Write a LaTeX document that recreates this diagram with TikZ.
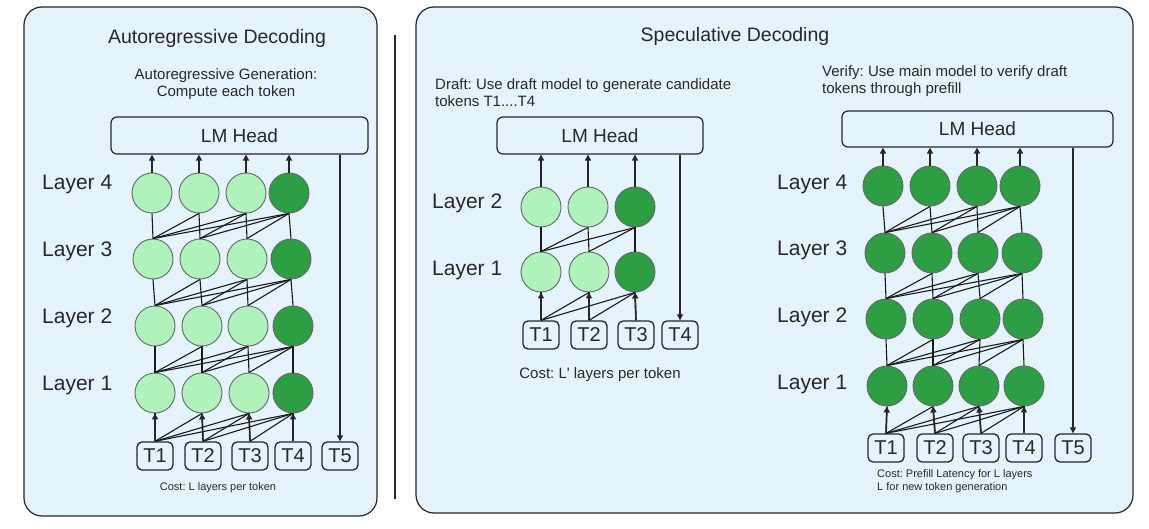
\documentclass[tikz,border=0pt]{standalone}
\usepackage{fontspec}
\setmainfont{Liberation Sans}
\usetikzlibrary{arrows.meta}
\definecolor{panelblue}{RGB}{229,243,253}
\definecolor{lightg}{RGB}{176,242,188}
\definecolor{darkg}{RGB}{46,158,68}
\definecolor{txt}{RGB}{40,40,40}
\frenchspacing
\begin{document}
\begin{tikzpicture}[x=1pt,y=-1pt,
  panel/.style={draw=black!85, line width=1.2pt, fill=panelblue, rounded corners=18pt},
  head/.style={draw=black!85, line width=1.2pt, rounded corners=6pt, inner sep=0pt, font=\fontsize{19}{22}\selectfont, text=txt},
  lnode/.style={circle, minimum size=40pt, inner sep=0pt, draw=black!60, line width=0.9pt, fill=lightg},
  dnode/.style={lnode, fill=darkg},
  tok/.style={draw=black!85, line width=1.3pt, rounded corners=5pt, minimum width=36pt, minimum height=28pt, inner sep=0pt, font=\fontsize{20}{22}\selectfont, text=txt},
  lbl/.style={anchor=west, font=\fontsize{21}{24}\selectfont, text=txt, inner sep=0pt},
  title/.style={font=\fontsize{19.5}{23}\selectfont, text=txt, inner sep=0pt},
  note/.style={font=\fontsize{15}{17.5}\selectfont, text=txt, inner sep=0pt},
  small/.style={font=\fontsize{11}{13}\selectfont, text=txt, inner sep=0pt},
  conn/.style={line width=1.1pt, draw=black!90},
  arr/.style={line width=1.7pt, draw=black!85, -{Triangle[length=6pt,width=6pt]}},
  darr/.style={line width=1.1pt, draw=black!85, -{Triangle[length=6pt,width=6pt]}}]
\useasboundingbox (0,0) rectangle (1149,529);

% panels
\draw[panel] (24,7) rectangle (377,516);
\draw[panel] (416,7) rectangle (1133,513);
\draw[line width=1.5pt, black!85] (395,35) -- (395,499);

% ===== Left: autoregressive =====
\node[title] (atitle) at (217,38) {Autoregressive Decoding};
\node[note, align=center] (asub) at (226,84) {Autoregressive Generation:\\Compute each token};
\node[head, minimum width=257pt, minimum height=37pt] (ahead) at (239.5,135.5) {LM Head};

\node[lbl] (al4) at (42,184) {Layer 4};
\node[lbl] (al3) at (42,251) {Layer 3};
\node[lbl] (al2) at (42,318) {Layer 2};
\node[lbl] (al1) at (42,385) {Layer 1};

\node[lnode] (a41) at (152,193) {}; \node[lnode] (a42) at (199,193) {}; \node[lnode] (a43) at (246,193) {}; \node[dnode] (a44) at (289,193) {};
\node[lnode] (a31) at (153,259) {}; \node[lnode] (a32) at (200,259) {}; \node[lnode] (a33) at (247,259) {}; \node[dnode] (a34) at (291,259) {};
\node[lnode] (a21) at (155,326) {}; \node[lnode] (a22) at (202,326) {}; \node[lnode] (a23) at (248,326) {}; \node[dnode] (a24) at (293,326) {};
\node[lnode] (a11) at (155,393) {}; \node[lnode] (a12) at (202,393) {}; \node[lnode] (a13) at (249,393) {}; \node[dnode] (a14) at (293,393) {};

\node[tok] (at1) at (155,456) {T1};
\node[tok] (at2) at (203,456) {T2};
\node[tok] (at3) at (250,456) {T3};
\node[tok] (at4) at (293,456) {T4};
\node[tok] (at5) at (340,456) {T5};
\node[small] (acost) at (218,488) {Cost: L layers per token};

\foreach \k [evaluate=\k as \kk using int(\k+1)] in {1,2,3}
  \foreach \i in {1,...,4}
    \foreach \j in {\i,...,4}
      \draw[conn] (a\k\i.north) -- (a\kk\j.south);
\foreach \i in {1,...,4} {
  \foreach \j in {\i,...,4} \draw[conn] (at\i.north) -- (a1\j.south);
  \draw[arr] (at\i.north) -- (a1\i.south);
  \draw[arr] (a4\i.north) -- (a4\i.north |- ahead.south);
}
\draw[darr] (ahead.south -| at5.north) -- (at5.north);

% ===== Right: speculative =====
\node[title] (stitle) at (735,36) {Speculative Decoding};

% draft
\node[note, align=left, anchor=west] (dsub) at (435,92.5) {Draft: Use draft model to generate candidate\\tokens T1....T4};
\node[head, minimum width=206pt, minimum height=37pt] (dhead) at (600,135.5) {LM Head};
\node[lbl] (dl2) at (432,203) {Layer 2};
\node[lbl] (dl1) at (432,270) {Layer 1};
\node[lnode] (d21) at (541,207) {}; \node[lnode] (d22) at (588,207) {}; \node[dnode] (d23) at (635,207) {};
\node[lnode] (d11) at (541,272) {}; \node[lnode] (d12) at (589,272) {}; \node[dnode] (d13) at (635,272) {};
\node[tok] (dt1) at (541,335) {T1};
\node[tok] (dt2) at (589,335) {T2};
\node[tok] (dt3) at (636,335) {T3};
\node[tok] (dt4) at (680,335) {T4};
\node[note] (dcost) at (600,375) {Cost: L\textquotesingle{} layers per token};

\foreach \i in {1,...,3} {
  \foreach \j in {\i,...,3} {
    \draw[conn] (d1\i.north) -- (d2\j.south);
    \draw[conn] (dt\i.north) -- (d1\j.south);
  }
  \draw[arr] (dt\i.north) -- (d1\i.south);
  \draw[arr] (d2\i.north) -- (d2\i.north |- dhead.south);
}
\draw[darr] (dhead.south -| dt4.north) -- (dt4.north);

% verify
\node[note, align=left, anchor=west] (vsub) at (822,81) {Verify: Use main model to verify draft\\tokens through prefill};
\node[head, minimum width=271pt, minimum height=36pt] (vhead) at (977.5,129) {LM Head};
\node[lbl] (vl4) at (777,184) {Layer 4};
\node[lbl] (vl3) at (777,250) {Layer 3};
\node[lbl] (vl2) at (777,317) {Layer 2};
\node[lbl] (vl1) at (777,384) {Layer 1};

\node[dnode] (v41) at (883,186) {}; \node[dnode] (v42) at (930,186) {}; \node[dnode] (v43) at (977,186) {}; \node[dnode] (v44) at (1020,186) {};
\node[dnode] (v31) at (885,253) {}; \node[dnode] (v32) at (932,253) {}; \node[dnode] (v33) at (978,253) {}; \node[dnode] (v34) at (1022,253) {};
\node[dnode] (v21) at (886,319) {}; \node[dnode] (v22) at (933,319) {}; \node[dnode] (v23) at (980,319) {}; \node[dnode] (v24) at (1023,319) {};
\node[dnode] (v11) at (887,386) {}; \node[dnode] (v12) at (933,386) {}; \node[dnode] (v13) at (979,386) {}; \node[dnode] (v14) at (1024,386) {};

\node[tok] (vt1) at (886,448) {T1};
\node[tok] (vt2) at (935,448) {T2};
\node[tok] (vt3) at (981,448) {T3};
\node[tok] (vt4) at (1024,448) {T4};
\node[tok] (vt5) at (1073,448) {T5};
\node[small, align=left, anchor=west] (vcost) at (877,481.5) {Cost: Prefill Latency for L layers\\L for new token generation};

\foreach \k [evaluate=\k as \kk using int(\k+1)] in {1,2,3}
  \foreach \i in {1,...,4}
    \foreach \j in {\i,...,4}
      \draw[conn] (v\k\i.north) -- (v\kk\j.south);
\foreach \i in {1,...,4} {
  \foreach \j in {\i,...,4} \draw[conn] (vt\i.north) -- (v1\j.south);
  \draw[arr] (vt\i.north) -- (v1\i.south);
  \draw[arr] (v4\i.north) -- (v4\i.north |- vhead.south);
}
\draw[darr] (vhead.south -| vt5.north) -- (vt5.north);
\end{tikzpicture}
\end{document}
